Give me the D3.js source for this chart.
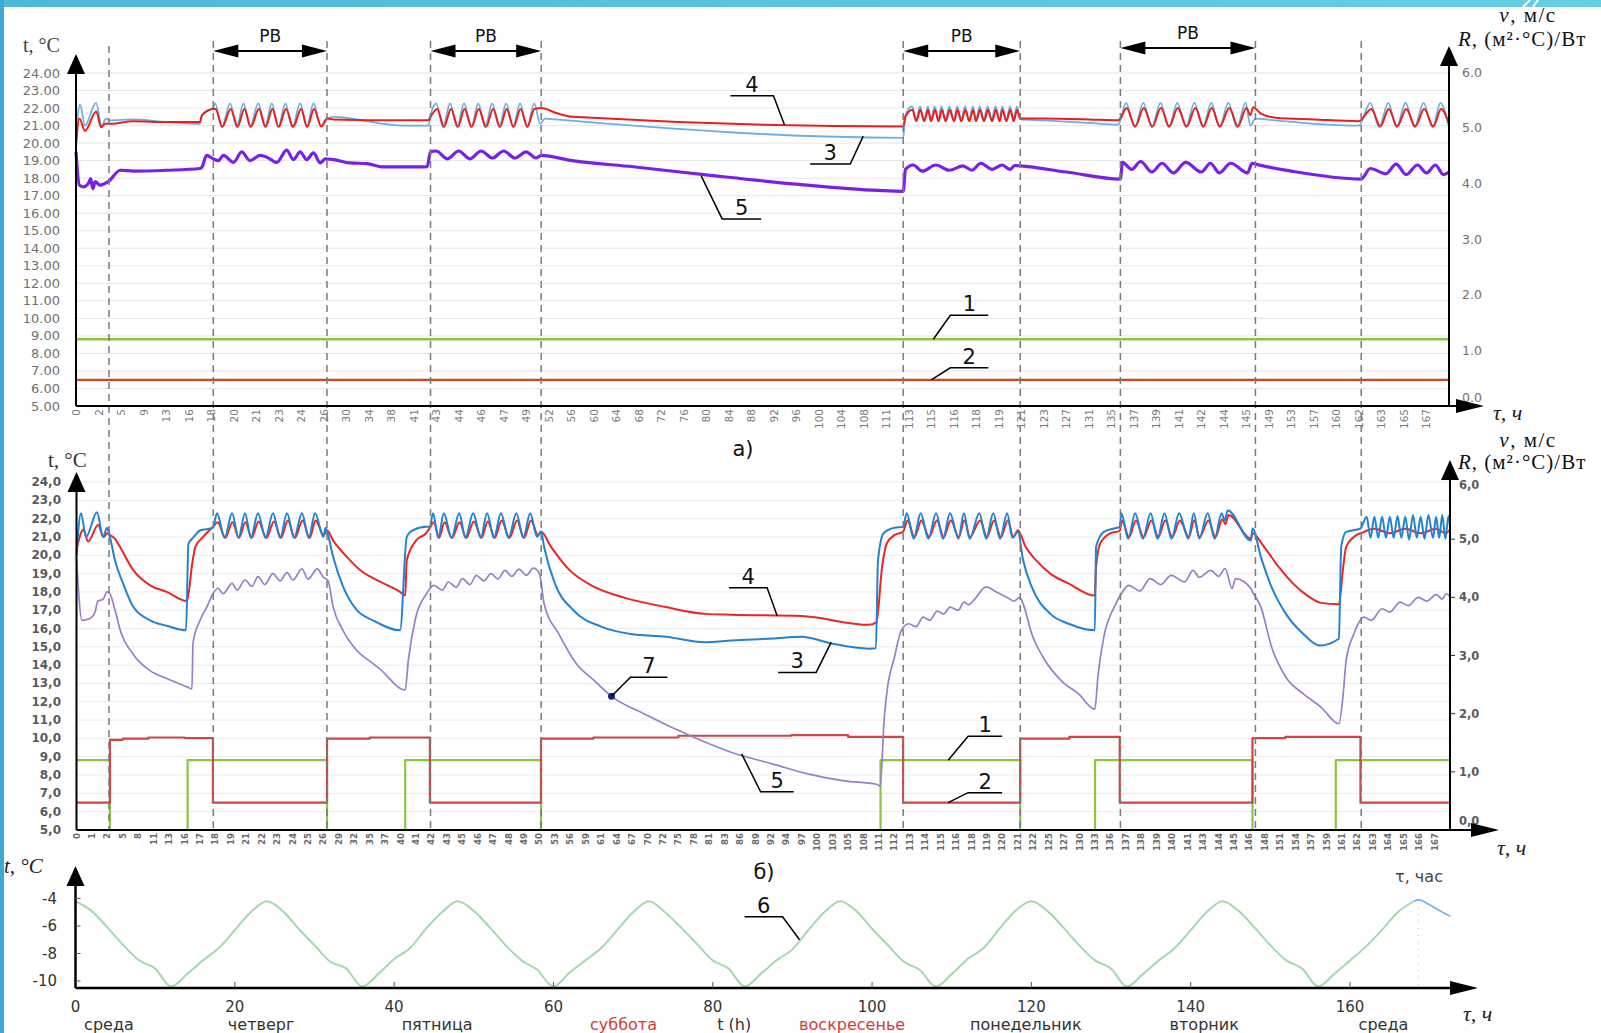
<!DOCTYPE html>
<html>
<head>
<meta charset="utf-8">
<script src="https://cdn.jsdelivr.net/npm/d3@7"></script>
<style>
body{margin:0;background:#fff;}
svg{display:block;font-family:"DejaVu Sans",sans-serif;}
.serif{font-family:"Liberation Serif","DejaVu Serif",serif;}
</style>
</head>
<body>
<div id="chart"></div>
<script>
// ---------- data ----------
// category labels (hours) of the two upper charts
var hoursA = [0,2,5,9,13,16,18,20,21,23,24,26,30,34,38,41,43,44,46,47,49,52,56,60,64,68,72,76,80,84,88,92,96,100,104,108,111,113,115,116,118,119,121,123,127,131,135,137,139,141,142,144,145,149,153,157,160,162,163,165,167];
var hoursB = [0,1,2,5,8,11,13,16,17,18,19,21,22,23,24,25,26,29,32,35,37,40,41,42,43,45,46,47,48,49,50,53,56,59,61,64,67,70,72,75,78,81,83,86,89,92,94,97,100,103,105,108,111,112,113,114,115,116,118,119,120,121,122,125,127,130,133,136,137,138,139,140,141,143,144,145,146,148,151,154,157,159,161,162,163,164,165,166,167];

var leftTicks = [5,6,7,8,9,10,11,12,13,14,15,16,17,18,19,20,21,22,23,24];
var rightTicks = [0,1,2,3,4,5,6];
var outdoorTicksY = [-4,-6,-8,-10];
var outdoorTicksX = [0,20,40,60,80,100,120,140,160];

// switching moments (dashed lines) and working time (РВ) spans, hours
var dashHours = [3.4, 18.2, 26.6, 42.5, 51.0, 112.5, 120.9, 135.8, 146.6, 162.1];
var pbSpans = [[18.2, 26.6], [42.5, 51.0], [112.5, 120.9], [135.8, 146.6]];

// chart a): 1 - v, 2 - R (right axis); 3,4,5 - temperatures (left axis)
var aV = [[0, 1.2], [169, 1.2]];
var aR = [[0, 0.47], [169, 0.47]];
var aBlue = [[0,20.6],[0.36,22.2],[0.8,21.0],[1.78,22.3],[2.42,21.0],[3.0,21.4],[3.5,21.3],[7.1,21.35],[13.1,21.2],[17.0,21.1],[17.2,21.6],[18.2,22.05],
  [18.36,22.27],[18.96,20.9],[19.7,22.27],[20.14,20.9],[20.44,22.27],[20.73,20.9],[21.2,22.27],[21.8,20.9],[22.4,22.27],[22.98,20.9],[23.3,22.27],[23.61,20.9],[23.96,22.27],[24.5,20.9],[25.1,22.27],[25.76,20.95],
  [26.8,21.42],[27.7,21.5],[39.4,21.0],[42.3,21.0],[42.5,21.6],
  [43.0,22.27],[43.31,20.9],[43.62,22.27],[43.93,20.9],[44.48,22.27],[45.12,20.9],[45.74,22.27],[46.18,20.9],[46.49,22.27],[46.8,20.9],[47.22,22.27],[47.84,20.9],[48.46,22.27],[49.12,20.9],[50.08,22.27],[50.86,21.1],
  [51.5,21.4],[53.2,21.35],[112.5,20.3],[112.7,21.6],
  [113.3,22.1],[113.65,21.3],[114.0,22.1],[114.35,21.3],[114.7,22.1],[114.95,21.3],[115.15,22.1],[115.3,21.3],[115.45,22.1],[115.62,21.3],[115.8,22.1],[116.0,21.3],[116.3,22.1],[116.65,21.3],[117.0,22.1],[117.35,21.3],[117.7,22.1],[117.95,21.3],[118.15,22.1],[118.32,21.3],[118.5,22.1],[118.68,21.3],[118.85,22.1],[119.05,21.3],[119.3,22.1],[119.65,21.3],[120.0,22.1],[120.3,21.3],[120.6,22.1],[120.9,21.35],
  [123,21.3],[131,21.15],[135.6,21.05],[135.8,21.3],
  [136.3,22.3],[137.08,20.9],[137.84,22.3],[138.6,20.9],[139.36,22.3],[140.1,20.9],[140.86,22.3],[141.31,20.9],[141.69,22.3],[142.14,20.9],[142.88,22.3],[143.6,20.9],[144.2,22.3],[144.58,20.9],[144.96,22.3],[145.7,21.0],
  [146.6,21.4],[150,21.3],[157,21.1],[162.0,21.0],
  [162.5,22.3],[162.9,20.9],[163.6,22.3],[164.34,20.9],[165.14,22.3],[165.94,20.9],[166.74,22.3],[167.54,20.9],[168.24,22.3],[168.96,21.0]];
var aRed = [[0,19.8],[0.3,21.4],[0.8,20.7],[1.8,21.8],[2.35,20.9],[2.9,21.1],[3.7,21.1],[7.1,21.25],[13.1,21.2],[17.0,21.2],[17.2,21.6],[18.2,21.95],
  [18.4,21.95],[19.0,20.93],[19.75,21.95],[20.18,20.93],[20.48,21.95],[20.77,20.93],[21.25,21.95],[21.85,20.93],[22.45,21.95],[23.0,20.93],[23.33,21.95],[23.65,20.93],[24.0,21.95],[24.55,20.93],[25.15,21.95],[25.8,20.95],
  [26.6,21.4],[27.7,21.35],[39.4,21.3],[42.3,21.3],[42.5,21.5],
  [43.05,21.95],[43.35,20.93],[43.66,21.95],[43.97,20.93],[44.52,21.95],[45.16,20.93],[45.78,21.95],[46.22,20.93],[46.53,21.95],[46.84,20.93],[47.26,21.95],[47.88,20.93],[48.5,21.95],[49.16,20.93],[50.1,21.95],[51.0,22.0],
  [53.5,21.7],[56.2,21.5],[112.5,20.95],[112.7,21.5],
  [113.32,21.9],[113.67,21.25],[114.02,21.9],[114.37,21.25],[114.72,21.9],[114.97,21.25],[115.17,21.9],[115.32,21.25],[115.47,21.9],[115.64,21.25],[115.82,21.9],[116.02,21.25],[116.32,21.9],[116.67,21.25],[117.02,21.9],[117.37,21.25],[117.72,21.9],[117.97,21.25],[118.17,21.9],[118.34,21.25],[118.52,21.9],[118.7,21.25],[118.87,21.9],[119.07,21.25],[119.32,21.9],[119.67,21.25],[120.02,21.9],[120.32,21.25],[120.62,21.9],[120.9,21.4],
  [123,21.4],[131,21.35],[135.6,21.3],[135.8,21.4],
  [136.35,22.0],[137.12,20.95],[137.88,22.0],[138.64,20.95],[139.4,22.0],[140.14,20.95],[140.9,22.0],[141.35,20.95],[141.73,22.0],[142.18,20.95],[142.92,22.0],[143.64,20.95],[144.24,22.0],[144.62,20.95],[145.0,22.0],[145.7,21.6],[146.2,22.05],
  [147.5,21.7],[150.2,21.45],[157,21.35],[162.0,21.25],
  [162.55,21.95],[162.95,20.95],[163.65,21.95],[164.4,20.95],[165.2,21.95],[166.0,20.95],[166.8,21.95],[167.6,20.95],[168.3,21.95],[169,21.1]];
var aPurple = [[0,19.5],[0.3,17.6],[0.65,17.5],[1.1,17.7],[1.3,17.97],[1.5,17.4],[1.7,17.8],[2.2,17.6],[2.87,17.7],[3.3,17.8],[4.9,18.45],[7.2,18.4],[13.1,18.45],[17.0,18.55],[17.2,18.64],[17.6,19.3],
  [18.2,19.1],[18.64,19.0],[19.1,19.3],[20.0,18.9],[20.36,19.5],[20.73,19.0],[21.36,19.3],[21.96,19.2],[22.84,18.9],[23.36,19.6],[23.66,19.06],[23.96,19.5],[24.5,19.06],[25.1,19.44],[25.7,18.87],[26.3,19.1],
  [27.76,19.06],[30.7,18.87],[33.7,18.83],[36.6,18.64],[39.2,18.64],[42.2,18.65],[42.5,19.5],
  [43.0,19.55],[43.5,19.1],[44.0,19.55],[45.0,19.1],[46.0,19.55],[46.5,19.15],[47.0,19.55],[48.0,19.15],[49.0,19.5],[50.3,19.15],[51.0,19.3],
  [56.2,19.0],[67.0,18.65],[81.6,18.13],[96.0,17.66],[109.9,17.3],[112.5,17.25],[112.7,18.5],
  [113.4,18.75],[114.2,18.4],[115.2,18.75],[115.8,18.45],[116.8,18.7],[117.6,18.45],[118.2,18.85],[118.7,18.5],[119.3,18.75],[120.0,18.5],[120.4,18.72],[120.9,18.7],
  [127,18.35],[135.8,17.95],[135.98,18.9],
  [136.8,18.5],[137.6,18.95],[138.6,18.35],[139.5,18.85],[140.5,18.3],[141.3,18.9],[142.0,18.35],[142.8,18.85],[143.6,18.3],[144.3,18.85],[145.2,18.3],[146.0,18.85],[146.6,18.8],
  [153,18.4],[162.1,17.95],[162.5,18.55],[163.4,18.25],[164.3,18.8],[165.2,18.2],[166.2,18.75],[167.0,18.3],[167.8,18.75],[168.5,18.2],[169,18.35]];

// chart б)
var bV = [[0,1.2],[2.5,0],[16.2,1.2],[26.7,0],[40.3,1.2],[50.3,0],[111.1,1.2],[121.15,0],[133,1.2],[146.4,0],[160.2,1.2],[169,1.2]];
var bR = [[0,0.47],[2.5,1.55],[5,1.57],[10,1.59],[16,1.58],[17.84,0.47],[26.7,1.57],[35,1.59],[41.9,0.47],[50.3,1.57],[60,1.59],[75,1.62],[95,1.63],[105,1.6],[112.56,0.47],[121.15,1.57],[128,1.6],[136.6,0.47],[146.4,1.58],[152,1.6],[162.2,0.47],[169,0.47]];
var bBlue = [[0,20.0],[0.29,22.3],[0.62,21.0],[1.33,22.35],[1.72,21.0],[1.98,21.5],[2.5,21.0],[3.5,19.7],[5.0,18.5],[7.0,17.2],[10.3,16.45],[12.7,16.15],[16.1,15.9],[16.25,20.6],[16.6,21.0],[17.0,21.35],[17.84,21.5],
  [18.1,22.3],[18.6,20.95],[19.16,22.3],[20.0,20.95],[20.84,22.3],[21.3,20.95],[21.76,22.3],[22.25,20.95],[22.73,22.3],[23.2,20.95],[23.64,22.3],[24.1,20.95],[24.61,22.3],[25.05,20.95],[25.46,22.3],[26.0,21.0],[26.4,21.5],[26.7,21.3],
  [27.9,19.9],[29.8,18.3],[32.5,17.0],[35.4,16.45],[39.9,15.9],[40.4,21.0],[40.75,21.35],[41.65,21.55],[41.9,21.55],
  [42.1,22.3],[42.45,20.95],[42.8,22.3],[43.6,20.95],[44.6,22.3],[45.2,20.95],[45.7,22.3],[46.2,20.95],[46.6,22.3],[47.05,20.95],[47.5,22.3],[48.0,20.95],[48.5,22.3],[48.95,20.95],[49.4,22.3],[49.85,21.0],[50.3,21.3],
  [50.9,20.45],[53.0,18.45],[56.6,17.0],[61.0,16.1],[66.7,15.7],[72.6,15.55],[80.1,15.25],[84.4,15.35],[92.2,15.45],[97.0,15.55],[102.5,15.2],[109.1,14.9],[110.4,14.92],[110.8,19.7],[111.3,21.2],[112.0,21.5],[112.56,21.55],
  [112.8,22.3],[113.25,20.9],[113.7,22.3],[114.2,20.9],[114.7,22.3],[115.15,20.9],[115.6,22.3],[116.3,20.9],[117.0,22.3],[117.75,20.9],[118.5,22.3],[118.95,20.9],[119.4,22.3],[119.85,20.9],[120.3,22.3],[120.65,20.95],[121.0,21.28],
  [121.34,19.73],[121.9,18.27],[125.2,16.8],[127.9,16.26],[132.95,15.9],[133.2,20.46],[134.7,21.28],[136.24,21.46],[136.6,21.55],
  [136.7,22.3],[137.15,20.9],[137.6,22.3],[138.1,20.9],[138.6,22.3],[139.05,20.9],[139.5,22.3],[139.95,20.9],[140.45,22.3],[141.1,20.9],[141.8,22.3],[142.5,20.9],[143.3,22.3],[143.75,20.9],[144.2,22.3],[144.4,21.9],[144.6,22.45],[146.2,20.8],[146.4,21.46],
  [147.5,19.9],[149.3,18.27],[152.1,16.8],[155.5,15.7],[158.1,15.07],[160.6,15.44],[160.9,20.46],[161.27,21.28],[162.2,21.46],
  [162.6,22.1],[162.85,20.95],[163.1,22.1],[163.35,20.95],[163.6,22.1],[163.85,20.95],[164.1,22.1],[164.35,20.95],[164.6,22.15],[164.85,20.95],[165.1,22.1],[165.35,20.85],[165.6,22.2],[165.85,20.95],[166.1,22.1],[166.35,20.9],[166.6,22.2],[166.9,20.95],[167.2,22.1],[167.6,20.95],[168.0,22.2],[168.4,20.9],[168.8,22.15],[169,21.6]];
var bRed = [[0,20.3],[0.45,21.4],[0.75,20.75],[1.4,21.65],[1.75,21.0],[2.0,21.2],[2.5,21.1],[3.5,20.9],[4.45,20.46],[7.0,19.2],[10.3,18.36],[12.7,18.0],[16.16,17.5],[16.5,19.55],[16.7,20.46],[17.2,21.0],[17.84,21.55],
  [18.15,21.8],[18.65,20.95],[19.2,21.8],[20.05,20.95],[20.9,21.8],[21.35,20.95],[21.8,21.85],[22.3,20.95],[22.8,21.85],[23.25,20.95],[23.7,21.9],[24.15,20.95],[24.65,21.9],[25.1,20.95],[25.5,21.9],[26.05,21.1],[26.7,21.35],
  [27.9,20.8],[30.6,19.9],[33.1,19.2],[36.0,18.63],[39.9,18.0],[40.3,17.8],[40.4,19.73],[41.0,20.8],[41.65,21.2],[41.9,21.5],
  [42.15,21.8],[42.5,20.95],[42.85,21.8],[43.65,20.95],[44.65,21.8],[45.25,20.95],[45.75,21.85],[46.25,20.95],[46.65,21.85],[47.1,20.95],[47.55,21.9],[48.05,20.95],[48.55,21.9],[49.0,20.95],[49.45,21.9],[49.9,21.1],[50.3,21.28],
  [52.25,20.46],[55.8,19.2],[60.1,18.27],[65.3,17.7],[72.6,17.17],[80.2,16.8],[84.4,16.75],[96.9,16.68],[109.1,16.2],[110.5,16.35],[111.2,19.36],[111.5,20.64],[112.0,21.1],[112.56,21.28],
  [112.85,21.9],[113.3,21.0],[113.75,21.9],[114.25,21.0],[114.75,21.9],[115.2,21.0],[115.65,21.9],[116.35,21.0],[117.05,21.9],[117.8,21.0],[118.55,21.9],[119.0,21.0],[119.45,21.9],[119.9,21.0],[120.35,21.9],[120.7,21.0],[121.0,21.37],
  [121.5,20.46],[122.5,19.73],[125.2,19.0],[127.9,18.45],[132.95,17.8],[133.2,19.36],[134.0,20.64],[136.0,21.2],[136.6,21.33],
  [136.75,21.9],[137.2,21.0],[137.65,21.9],[138.15,21.0],[138.65,21.9],[139.1,21.0],[139.55,21.9],[140.0,21.0],[140.5,21.9],[141.15,21.0],[141.85,21.9],[142.55,21.0],[143.35,21.9],[143.8,21.0],[144.25,21.95],[144.45,21.7],[144.65,22.2],[146.2,20.9],[146.4,21.2],
  [147.9,20.46],[150.7,19.36],[153.5,18.45],[156.25,17.8],[158.3,17.4],[160.6,17.32],[161.08,19.36],[161.27,20.46],[161.77,21.0],[162.44,21.28],
  [163.1,21.45],[164.1,21.2],[165.1,21.45],[166.1,21.2],[167.2,21.45],[168.4,21.2],[169,21.4]];
var bPurple = [[0,19.8],[0.36,16.45],[0.87,16.55],[1.2,16.9],[1.39,17.5],[1.72,17.6],[1.98,18.0],[2.5,17.9],[3.5,17.0],[4.5,15.9],[7.0,14.6],[10.3,13.7],[12.7,13.27],[16.2,12.8],[16.48,12.7],
  [16.55,15.2],[17.0,16.44],[17.46,17.2],[17.84,17.9],[18.17,18.2],[18.5,17.9],[19.16,18.47],[19.8,18.1],[20.84,18.65],[21.37,18.3],[21.76,18.83],[22.2,18.4],[22.73,19.0],[23.19,18.6],[23.64,19.05],[24.03,18.65],[24.61,19.26],[25.0,18.7],[25.6,19.26],[26.0,18.8],[26.9,18.6],
  [27.9,17.17],[29.8,15.9],[32.5,14.8],[35.4,14.1],[36.3,13.8],[40.3,12.65],[40.5,14.25],[40.98,16.6],[41.68,17.9],[42.14,18.36],
  [42.7,18.1],[43.2,18.54],[44.2,18.25],[45.0,18.72],[45.5,18.4],[45.9,18.9],[46.4,18.6],[46.86,19.0],[47.3,18.7],[47.77,19.18],[48.2,18.85],[48.68,19.24],[49.15,18.9],[49.6,19.3],[50.0,19.0],
  [50.9,17.37],[53.7,15.73],[57.1,14.1],[60.1,13.16],[63.0,12.3],[69.3,11.35],[78.1,10.05],[84.4,9.23],[92.3,8.6],[98.35,8.05],[104.5,7.68],[110.5,7.5],[111.07,7.4],
  [111.2,8.78],[111.3,10.6],[111.5,12.43],[112.0,14.43],[112.45,15.9],[112.93,16.26],[113.4,16.1],[113.86,16.62],[114.3,16.45],[114.77,16.95],[115.2,16.8],[115.6,17.17],[116.3,17.0],[117.0,17.44],[117.6,17.3],[118.23,17.63],[118.93,18.27],[119.6,18.0],[120.3,17.7],[120.76,17.5],[121.12,17.7],[121.34,17.35],
  [121.9,15.7],[123.9,14.43],[126.6,13.16],[129.8,12.43],[132.95,11.6],[133.6,13.5],[134.7,15.53],[136.24,17.17],[136.7,17.9],
  [137.18,18.36],[137.9,18.05],[138.57,18.72],[139.25,18.4],[139.93,18.9],[140.8,18.55],[141.7,19.18],[142.5,18.8],[143.5,19.18],[144.0,18.85],[144.43,19.27],[144.88,18.18],[145.1,18.72],[146.2,18.18],[146.4,18.0],
  [147.5,17.17],[149.3,15.0],[152.1,13.34],[155.5,12.43],[158.3,11.7],[160.6,10.8],[161.08,12.43],[161.27,14.25],[161.77,15.7],[162.44,16.62],
  [162.9,16.45],[163.6,17.08],[164.1,16.9],[164.77,17.44],[165.3,17.25],[165.94,17.7],[166.5,17.5],[167.2,17.85],[168.0,17.6],[168.5,17.9],[169,17.75]];
var point7 = [63.0, 12.3];

// outdoor air temperature (6), every 2 h
var outdoorHours = d3.range(0, 169, 2);
var outdoorT = [
  -4.2,-4.9,-6.1,-7.4,-8.5,-9.1,-10.4,-9.5,-8.5,-7.6,-6.3,-5.0,
  -4.2,-4.9,-6.2,-7.4,-8.6,-9.1,-10.4,-9.5,-8.4,-7.6,-6.2,-5.0,
  -4.2,-4.9,-6.1,-7.4,-8.5,-9.2,-10.4,-9.4,-8.5,-7.6,-6.3,-5.0,
  -4.2,-5.0,-6.1,-7.3,-8.5,-9.1,-10.4,-9.5,-8.5,-7.7,-6.3,-5.0,
  -4.2,-4.9,-6.2,-7.4,-8.6,-9.2,-10.4,-9.5,-8.4,-7.6,-6.2,-4.9,
  -4.2,-4.9,-6.1,-7.4,-8.5,-9.1,-10.4,-9.5,-8.5,-7.6,-6.3,-5.0,
  -4.2,-4.9,-6.1,-7.4,-8.5,-9.1,-10.4,-9.5,-8.5,-7.5,-6.3,-5.0,
  -4.2];
var outdoorTail = [[168,-4.2],[168.7,-4.1],[169.8,-4.4],[171,-4.8],[172.6,-5.3]];
var dayNames = [["среда",4.2,0],["четверг",23.3,0],["пятница",45.4,0],["суббота",68.8,1],["t (h)",82.7,0],["воскресенье",97.5,1],["понедельник",119.3,0],["вторник",141.7,0],["среда",164.2,0]];

// ---------- layout ----------
var W = 1601, H = 1033;
var A = {left: 76, right: 1449, top: 73, bottom: 406};
var B = {left: 76.5, right: 1450, top: 482, bottom: 830};
var C = {left: 75.5, x160: 1350, top: 898.5, bottom: 988};

function catScale(labels, p) {
  var dom = labels.concat([169]);
  var slot = d3.scaleLinear().domain([0, dom.length - 1]).range([p.left, p.right]);
  return d3.scaleLinear().domain(dom).range(dom.map(function(d, i){ return slot(i); }));
}
var xA = catScale(hoursA, A), xB = catScale(hoursB, B);
var yA = d3.scaleLinear().domain([5, 24]).range([A.bottom, A.top]);
var yA2 = d3.scaleLinear().domain([0, 6]).range([A.bottom, 72]);
var yB = d3.scaleLinear().domain([5, 24]).range([B.bottom, B.top]);
var yB2 = d3.scaleLinear().domain([0, 6]).range([B.bottom, 481]);
var xC = d3.scaleLinear().domain([0, 160]).range([C.left, C.x160]);
var yC = d3.scaleLinear().domain([-10, -4]).range([981, C.top]);

var svg = d3.select("#chart").append("svg").attr("width", W).attr("height", H);
svg.append("rect").attr("width", W).attr("height", H).attr("fill", "#fff");

// slide decoration
var grad = svg.append("defs").append("linearGradient").attr("id", "band");
grad.append("stop").attr("offset", "0%").attr("stop-color", "#4db9d8");
grad.append("stop").attr("offset", "100%").attr("stop-color", "#66cfe2");
svg.append("rect").attr("x", 0).attr("y", 0).attr("width", W).attr("height", 7).attr("fill", "url(#band)");
svg.append("rect").attr("x", 0).attr("y", 0).attr("width", 4).attr("height", H).attr("fill", "#3fa9d3");
svg.append("path").attr("d", "M1523,7L1530,0M1533,7L1538,0").attr("stroke", "#fff").attr("stroke-width", 2);

function triangle(g, pts) {
  g.append("path").attr("d", "M" + pts.join("L") + "Z").attr("fill", "#000");
}
function upArrow(g, x, tip) { triangle(g, [[x, tip], [x - 9, tip + 20], [x + 9, tip + 20]]); }
function rightArrow(g, tip, y) { triangle(g, [[tip, y], [tip - 28, y - 7], [tip - 28, y + 7]]); }

var commaFmt = function(d){ return d.toFixed(1).replace(".", ","); };

function drawPanel(p, x, y, y2, hours, opt) {
  var g = svg.append("g");
  // grid
  g.selectAll("line.grid").data(leftTicks.slice(1)).join("line")
    .attr("x1", p.left).attr("x2", p.right)
    .attr("y1", function(d){ return y(d); }).attr("y2", function(d){ return y(d); })
    .attr("stroke", opt.grid).attr("stroke-width", 1);
  // left tick labels
  g.selectAll("text.yl").data(leftTicks).join("text")
    .attr("x", opt.ylX).attr("y", function(d){ return y(d); })
    .attr("text-anchor", "end").attr("dominant-baseline", "central")
    .attr("font-size", opt.yFont).attr("font-weight", opt.weight).attr("fill", opt.tickColor)
    .text(opt.leftFmt);
  // right tick labels
  g.selectAll("text.yr").data(rightTicks).join("text")
    .attr("x", p.right + opt.yrDx).attr("y", function(d){ return y2(d) - (d === 0 ? 9 : 0) + (d === 6 ? opt.topShift : 0); })
    .attr("dominant-baseline", "central")
    .attr("font-size", opt.yFont - 0.5).attr("font-weight", opt.weight).attr("fill", opt.tickColor)
    .text(opt.rightFmt);
  if (opt.rightTickMarks) {
    g.selectAll("line.yrt").data(rightTicks.slice(1, 6)).join("line")
      .attr("x1", p.right).attr("x2", p.right + 5)
      .attr("y1", function(d){ return y2(d); }).attr("y2", function(d){ return y2(d); })
      .attr("stroke", "#333").attr("stroke-width", 1);
  }
  // category labels, rotated
  g.selectAll("text.xl").data(hours).join("text")
    .attr("transform", function(d){ return "translate(" + x(d) + "," + (p.bottom + 3) + ") rotate(-90)"; })
    .attr("text-anchor", "end").attr("dominant-baseline", "central")
    .attr("font-size", opt.xFont).attr("font-weight", opt.weight).attr("fill", opt.xColor)
    .text(function(d){ return d; });
  return g;
}

var gA = drawPanel(A, xA, yA, yA2, hoursA, {grid: "#e6e6e6", ylX: 60, yFont: 13, weight: "normal", tickColor: "#707070",
  leftFmt: d3.format(".2f"), rightFmt: d3.format(".1f"), yrDx: 13, xFont: 10.5, xColor: "#7a7a7a", rightTickMarks: false, topShift: 0});
var gB = drawPanel(B, xB, yB, yB2, hoursB, {grid: "#ebebeb", ylX: 61, yFont: 12, weight: "bold", tickColor: "#5a5a5a",
  leftFmt: commaFmt, rightFmt: commaFmt, yrDx: 9, xFont: 8.6, xColor: "#6a6a6a", rightTickMarks: true, topShift: 4});

// dashed switching lines across both charts
svg.append("g").selectAll("line").data(dashHours).join("line")
  .attr("x1", function(d){ return xA(d); }).attr("x2", function(d){ return xA(d); })
  .attr("y1", function(d, i){ return i === 0 ? 46 : 41; }).attr("y2", B.bottom)
  .attr("stroke", "#7a7a7a").attr("stroke-width", 1.5).attr("stroke-dasharray", "7,5");

// РВ arrows
var gPB = svg.append("g");
pbSpans.forEach(function(s, i){
  var x1 = xA(s[0]), x2 = xA(s[1]), yy = i === 3 ? 48 : 51;
  gPB.append("line").attr("x1", x1 + 20).attr("x2", x2 - 20).attr("y1", yy).attr("y2", yy).attr("stroke", "#000").attr("stroke-width", 2);
  triangle(gPB, [[x1, yy], [x1 + 25, yy - 6.5], [x1 + 25, yy + 6.5]]);
  triangle(gPB, [[x2, yy], [x2 - 25, yy - 6.5], [x2 - 25, yy + 6.5]]);
  gPB.append("text").attr("x", (x1 + x2) / 2).attr("y", yy - 9).attr("text-anchor", "middle")
    .attr("font-size", 17).attr("fill", "#111").text("РВ");
});

function line(x, y) {
  return d3.line().curve(d3.curveMonotoneX).x(function(d){ return x(d[0]); }).y(function(d){ return y(d[1]); });
}
function stepLine(x, y) {
  return d3.line().curve(d3.curveStepAfter).x(function(d){ return x(d[0]); }).y(function(d){ return y(d[1]); });
}
function plot(g, data, gen, color, width) {
  g.append("path").datum(data).attr("d", gen).attr("fill", "none")
    .attr("stroke", color).attr("stroke-width", width).attr("stroke-linejoin", "round");
}

// chart a) lines
plot(gA, aV, line(xA, yA2), "#8cc63f", 2.6);
plot(gA, aR, line(xA, yA2), "#d8401f", 2.2);
plot(gA, aPurple, line(xA, yA), "#7a1fe8", 3.2);
plot(gA, aBlue, line(xA, yA), "#6bb0e2", 1.8);
plot(gA, aRed, line(xA, yA), "#f01c1c", 2);

// chart б) lines
plot(gB, bV, stepLine(xB, yB2), "#8cc63f", 2.2);
plot(gB, bR, stepLine(xB, yB2), "#d04545", 2.2);
plot(gB, bPurple, line(xB, yB), "#9a7fc6", 1.7);
plot(gB, bRed, line(xB, yB), "#ee2424", 2);
plot(gB, bBlue, line(xB, yB), "#2183d3", 2);
gB.append("circle").attr("cx", xB(point7[0])).attr("cy", yB(point7[1])).attr("r", 3.5).attr("fill", "#17237a");

// axes of a) and б)
function frame(p, topL, topR, arrowTip) {
  var g = svg.append("g");
  g.append("line").attr("x1", p.left).attr("x2", p.left).attr("y1", p.bottom).attr("y2", topL + 15).attr("stroke", "#000").attr("stroke-width", 2);
  g.append("line").attr("x1", p.right).attr("x2", p.right).attr("y1", p.bottom).attr("y2", topR + 15).attr("stroke", "#000").attr("stroke-width", 2);
  g.append("line").attr("x1", p.left).attr("x2", arrowTip - 20).attr("y1", p.bottom).attr("y2", p.bottom).attr("stroke", "#000").attr("stroke-width", 2);
  upArrow(g, p.left, topL);
  upArrow(g, p.right, topR);
  rightArrow(g, arrowTip, p.bottom);
}
frame(A, 54, 46, 1484);
frame(B, 472, 460, 1499);

// titles of axes
function tText(x, y, size, txt, italic) {
  return svg.append("text").attr("class", "serif").attr("x", x).attr("y", y).attr("font-size", size)
    .attr("fill", "#222").attr("font-style", italic ? "italic" : "normal").text(txt);
}
tText(23, 52, 20, "t, °C").attr("fill", "#444");
tText(48, 467, 21, "t, °C").attr("fill", "#333");
function rightTitle(y1, y2) {
  var t1 = svg.append("text").attr("class", "serif").attr("x", 1528).attr("y", y1).attr("font-size", 21)
    .attr("letter-spacing", 1.5).attr("text-anchor", "middle").attr("fill", "#111");
  t1.append("tspan").attr("font-style", "italic").text("v");
  t1.append("tspan").text(", м/с");
  var t2 = svg.append("text").attr("class", "serif").attr("x", 1458).attr("y", y2).attr("font-size", 21)
    .attr("letter-spacing", 1).attr("fill", "#111");
  t2.append("tspan").attr("font-style", "italic").text("R");
  t2.append("tspan").text(", (м²·°C)/Вт");
}
rightTitle(22, 46);
rightTitle(447, 469);
tText(1493, 420, 22, "τ, ч", true);
tText(1497, 855, 22, "τ, ч", true);
tText(1463, 1021, 22, "τ, ч", true);
svg.append("text").attr("x", 743).attr("y", 456).attr("text-anchor", "middle").attr("font-size", 21).attr("fill", "#111").text("а)");
svg.append("text").attr("x", 764).attr("y", 879).attr("text-anchor", "middle").attr("font-size", 21).attr("fill", "#111").text("б)");

// numbered leaders: anchor on a curve (data units), then elbow and underline in px
function leader(g, px, py, dx, dy, len, label) {
  var ex = px + dx, ey = py + dy, ux = ex + len;
  g.append("path").attr("d", "M" + px + "," + py + "L" + ex + "," + ey + "L" + ux + "," + ey)
    .attr("fill", "none").attr("stroke", "#000").attr("stroke-width", 1.5);
  g.append("text").attr("x", (ex + ux) / 2).attr("y", ey - 4).attr("text-anchor", "middle")
    .attr("font-size", 21).attr("fill", "#111").text(label);
}
var gL = svg.append("g");
leader(gL, xA(93.9), yA(21.05), -11, -29, -43, "4");
leader(gL, xA(107.9), yA(20.4), -13, 28, -40, "3");
leader(gL, xA(79.1), yA(18.13), 21, 43, 39, "5");
leader(gL, xA(115.09), yA2(1.2), 17, -24, 38, "1");
leader(gL, xA(115.0), yA2(0.47), 19, -12, 38, "2");
leader(gL, xB(92.8), yB(16.7), -10, -28, -38, "4");
leader(gL, xB(102.7), yB(15.24), -15, 30, -38, "3");
leader(gL, xB(point7[0]), yB(point7[1]), 19, -19, 37, "7");
leader(gL, xB(86.3), yB(9.16), 19, 38, 33, "5");
leader(gL, xB(115.48), yB2(1.2), 20, -24, 34, "1");
leader(gL, xB(115.48), yB2(0.47), 20, -10, 34, "2");

// ---------- outdoor air (bottom) ----------
var gC = svg.append("g");
gC.append("line").attr("x1", xC(168.6)).attr("x2", xC(168.6)).attr("y1", 900).attr("y2", C.bottom)
  .attr("stroke", "#bbb").attr("stroke-width", 1).attr("stroke-dasharray", "1,6");
var cLine = d3.line().curve(d3.curveMonotoneX).x(function(d){ return xC(d[0]); }).y(function(d){ return yC(d[1]); });
gC.append("path").datum(outdoorHours.map(function(h, i){ return [h, outdoorT[i]]; }))
  .attr("d", cLine).attr("fill", "none").attr("stroke", "#a6d8ae").attr("stroke-width", 2);
gC.append("path").datum(outdoorTail).attr("d", cLine).attr("fill", "none").attr("stroke", "#72b3e3").attr("stroke-width", 1.6);
gC.append("line").attr("x1", C.left).attr("x2", C.left).attr("y1", C.bottom).attr("y2", 880).attr("stroke", "#000").attr("stroke-width", 2.5);
gC.append("line").attr("x1", C.left).attr("x2", 1452).attr("y1", C.bottom).attr("y2", C.bottom).attr("stroke", "#000").attr("stroke-width", 2.5);
upArrow(gC, C.left, 866);
rightArrow(gC, 1478, C.bottom);
gC.selectAll("line.cyt").data(outdoorTicksY).join("line")
  .attr("x1", C.left).attr("x2", C.left + 5).attr("y1", function(d){ return yC(d); }).attr("y2", function(d){ return yC(d); })
  .attr("stroke", "#555").attr("stroke-width", 1);
gC.selectAll("text.cy").data(outdoorTicksY).join("text")
  .attr("x", 57).attr("y", function(d){ return yC(d); }).attr("dominant-baseline", "central").attr("text-anchor", "end")
  .attr("font-size", 15).attr("fill", "#333").text(function(d){ return d; });
gC.selectAll("line.cxt").data(outdoorTicksX.slice(1)).join("line")
  .attr("x1", function(d){ return xC(d); }).attr("x2", function(d){ return xC(d); }).attr("y1", C.bottom).attr("y2", C.bottom - 6)
  .attr("stroke", "#555").attr("stroke-width", 1);
gC.selectAll("text.cx").data(outdoorTicksX).join("text")
  .attr("x", function(d){ return xC(d); }).attr("y", 1012).attr("text-anchor", "middle")
  .attr("font-size", 15).attr("fill", "#333").text(function(d){ return d; });
gC.selectAll("text.day").data(dayNames).join("text")
  .attr("x", function(d){ return xC(d[1]); }).attr("y", 1030).attr("text-anchor", "middle")
  .attr("font-size", 16).attr("fill", function(d){ return d[2] ? "#d43a3a" : "#333"; }).text(function(d){ return d[0]; });
tText(4, 873, 21, "t, °C", true);
svg.append("text").attr("x", 1419).attr("y", 882).attr("text-anchor", "middle").attr("font-size", 16).attr("fill", "#444").text("τ, час");
leader(gC, xC(90.9), yC(-7.0), -17, -23, -38, "6");
</script>
</body>
</html>
